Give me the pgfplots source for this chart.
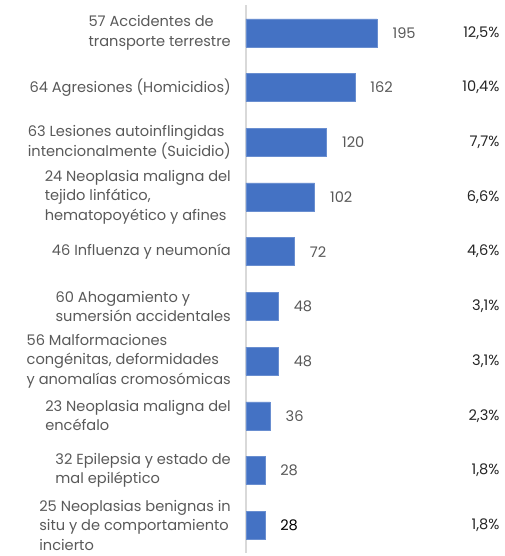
\documentclass[border=0pt]{standalone}
\usepackage{fontspec}
\setmainfont{Poppins}
\usepackage{pgfplots}
\usepackage{pgfplotstable}
\pgfplotsset{compat=1.18}
\definecolor{barblue}{HTML}{4472C4}
\definecolor{lblgray}{HTML}{595959}
\definecolor{axgray}{HTML}{D9D9D9}
\definecolor{pctblack}{HTML}{262626}
\pgfplotstableread{
idx val pct
0 195 12,5\%
1 162 10,4\%
2 120 7,7\%
3 102 6,6\%
4 72 4,6\%
5 48 3,1\%
6 48 3,1\%
7 36 2,3\%
8 28 1,8\%
}\dataA
\pgfplotstableread{
idx val pct
9 28 1,8\%
}\dataB
\begin{document}
\begin{tikzpicture}
\begin{axis}[name=ax, scale only axis, width=259pt, height=547pt,
  xmin=0, xmax=385.4, ymin=-0.5, ymax=9.5, y dir=reverse,
  hide x axis, axis y line*=left,
  y axis line style={-, axgray, line width=1.5pt},
  ytick={0,...,9}, major tick length=0pt,
  yticklabels={{57 Accidentes de\\transporte terrestre},
    {64 Agresiones (Homicidios)},
    {63 Lesiones autoinflingidas\\intencionalmente (Suicidio)},
    {24 Neoplasia maligna del\\tejido linfático,\\hematopoyético y afines},
    {46 Influenza y neumonía},
    {60 Ahogamiento y\\sumersión accidentales},
    {56 Malformaciones\\congénitas, deformidades\\y anomalías cromosómicas},
    {23 Neoplasia maligna del\\encéfalo},
    {32 Epilepsia y estado de\\mal epiléptico},
    {25 Neoplasias benignas in\\situ y de comportamiento\\incierto}},
  yticklabel style={align=left, anchor=east, inner sep=0pt, xshift=-15pt,
    font=\fontsize{14.6}{19.4}\selectfont, text=lblgray},
  /pgf/number format/assume math mode=true,
  clip=false]
\addplot[xbar, bar width=28pt, bar shift=0pt, fill=barblue, draw=barblue!80!white,
  nodes near coords, nodes near coords style={anchor=west, xshift=12pt,
    font=\fontsize{14.6}{16}\selectfont, text=lblgray}]
  table[x=val, y=idx] {\dataA};
\addplot[xbar, bar width=28pt, bar shift=0pt, fill=barblue, draw=barblue!80!white,
  nodes near coords, nodes near coords style={anchor=west, xshift=12pt,
    font=\fontsize{14.6}{16}\selectfont, text=black}]
  table[x=val, y=idx] {\dataB};
\addplot[draw=none, mark=none, nodes near coords, point meta=explicit symbolic,
  nodes near coords style={anchor=east, inner sep=0pt,
    font=\fontsize{14.6}{16}\selectfont, text=pctblack}]
  table[x expr=377.5, y=idx, meta=pct] {\dataA};
\addplot[draw=none, mark=none, nodes near coords, point meta=explicit symbolic,
  nodes near coords style={anchor=east, inner sep=0pt,
    font=\fontsize{14.6}{16}\selectfont, text=pctblack}]
  table[x expr=377.5, y=idx, meta=pct] {\dataB};
\end{axis}
\pgfresetboundingbox
\path ([xshift=-246pt,yshift=-3.5pt]ax.south west) rectangle ([yshift=5.5pt]ax.north east);
\end{tikzpicture}
\end{document}
